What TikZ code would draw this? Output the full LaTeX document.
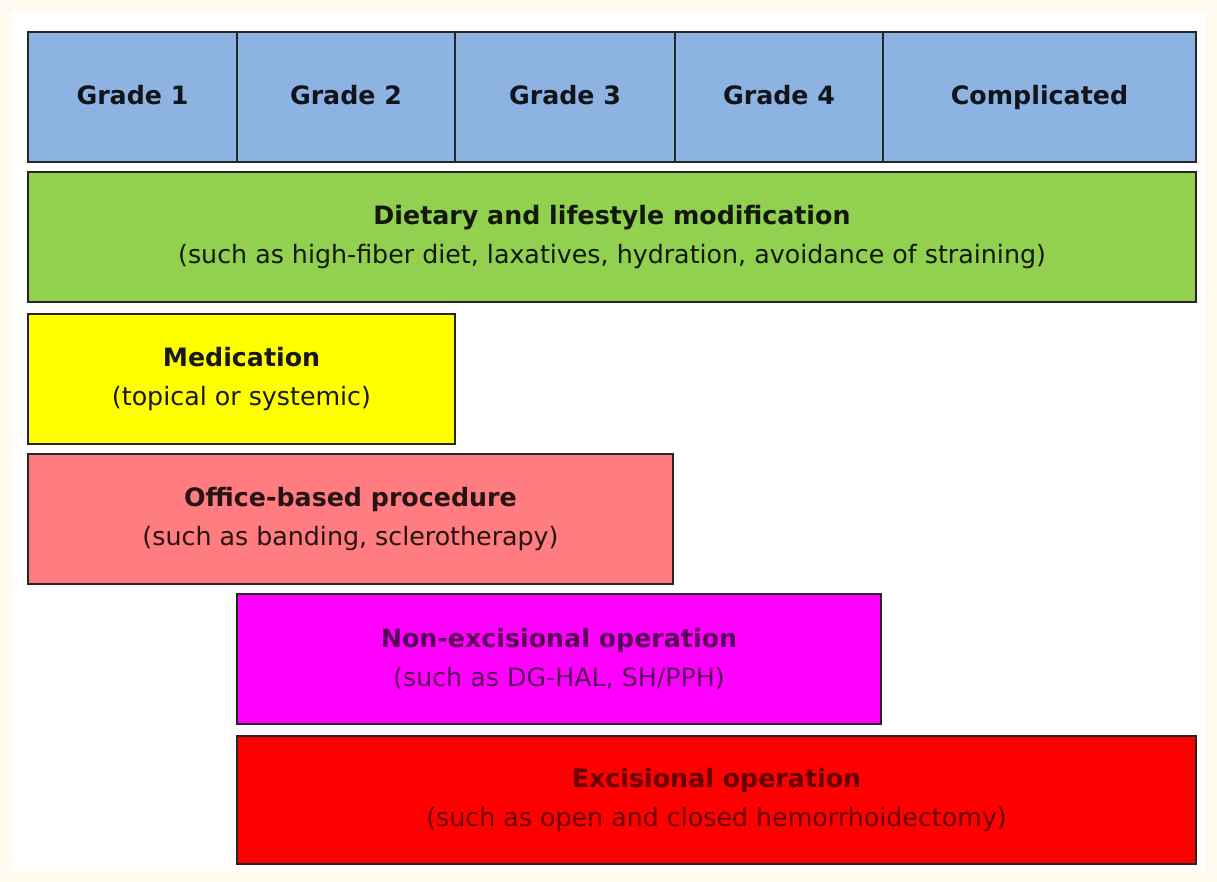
\documentclass[tikz,border=0pt]{standalone}
\usepackage{fontspec}
\setmainfont{DejaVu Sans}
\definecolor{gradeblue}{HTML}{8DB3E2}
\definecolor{dietgreen}{HTML}{92D050}
\definecolor{medyellow}{HTML}{FFFF00}
\definecolor{officepink}{HTML}{FF7C80}
\definecolor{nonexmag}{HTML}{FF00FF}
\definecolor{exred}{HTML}{FF0000}
\definecolor{cream}{HTML}{FFFBEE}
\tikzset{
  box/.style={draw=black!85, line width=0.9pt, inner sep=0pt, align=center,
    font=\fontsize{14.4}{22}\selectfont},
  hdr/.style={box, fill=gradeblue, text=gradeblue!12!black, text height=0.9em,
    text depth=0pt, minimum height={130*0.02cm},
    font=\bfseries\fontsize{14.4}{16}\selectfont},
}

\begin{document}
\begin{tikzpicture}[x=0.02cm, y=-0.02cm]
    % page and frame
    \fill[cream] (0,0) rectangle (1217,882);
    \fill[white] (11,11) rectangle (1206,871);
    \useasboundingbox (0,0) rectangle (1217,882);
    % grades
    \foreach \xa/\xb/\lab/\nm in {28/237/Grade 1/gone,237/455/Grade 2/gtwo,
      455/675/Grade 3/gthree,675/883/Grade 4/gfour,883/1196/Complicated/gcompl}
    \node[hdr, minimum width={(\xb-\xa)*0.02cm}] (\nm) at ({(\xa+\xb)/2},97) {\lab};
    % treatments
    \node[box, fill=dietgreen, text=dietgreen!12!black,
      minimum width={1168*0.02cm}, minimum height={130*0.02cm}] (diet) at (612,237)
      {\textbf{Dietary and lifestyle modification}\\
       (such as high-fiber diet, laxatives, hydration, avoidance of straining)};
    \node[box, fill=medyellow, text=black!90,
      minimum width={427*0.02cm}, minimum height={130*0.02cm}] (medic) at (241.5,379)
      {\textbf{Medication}\\(topical or systemic)};
    \node[box, fill=officepink, text=officepink!15!black,
      minimum width={645*0.02cm}, minimum height={130*0.02cm}] (office) at (350.5,519)
      {\textbf{Office-based procedure}\\(such as banding, sclerotherapy)};
    \node[box, fill=nonexmag, text=nonexmag!35!black,
      minimum width={644*0.02cm}, minimum height={130*0.02cm}] (nonexc) at (559,659)
      {\textbf{Non-excisional operation}\\(such as DG-HAL, SH/PPH)};
    \node[box, fill=exred, text=exred!40!black,
      minimum width={959*0.02cm}, minimum height={128*0.02cm}] (excis) at (716.5,800)
      {\textbf{Excisional operation}\\(such as open and closed hemorrhoidectomy)};
\end{tikzpicture}
\end{document}
